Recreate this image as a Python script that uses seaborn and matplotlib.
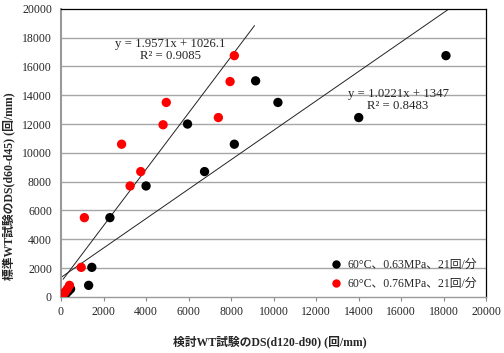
import numpy as np
import pandas as pd
import seaborn as sns
import matplotlib.pyplot as plt

# Data
black_x = [5950, 6750, 8150, 9150, 10200, 14000, 18100, 4000, 2300, 1450, 1300, 450, 350, 250]
black_y = [12000, 8700, 10600, 15000, 13500, 12450, 16750, 7700, 5500, 2050, 800, 550, 400, 250]
red_x = [2850, 3750, 4800, 4950, 7400, 7950, 8150, 3250, 1100, 950, 400, 300, 200, 150]
red_y = [10600, 8700, 11950, 13500, 12450, 14950, 16750, 7700, 5500, 2050, 800, 550, 350, 250]
series_labels = ["60°C、0.63MPa、21回/分", "60°C、0.76MPa、21回/分"]

# trendlines (slope, intercept, x-range)
red_fit = (1.9571, 1026.1, 100, 9100)
black_fit = (1.0221, 1347, 30, 18300)
red_eq = "y = 1.9571x + 1026.1\nR² = 0.9085"
black_eq = "y = 1.0221x + 1347\nR² = 0.8483"

xticks = list(range(0, 20001, 2000))
yticks = list(range(0, 20001, 2000))

df = pd.DataFrame({
    "x": black_x + red_x,
    "y": black_y + red_y,
    "series": [series_labels[0]] * len(black_x) + [series_labels[1]] * len(red_x),
})

sns.set_style("white")
fam = ["Liberation Serif", "Noto Sans CJK JP"]
plt.rcParams["font.family"] = fam

fig = plt.figure(figsize=(5.04, 3.53), dpi=100)
ax = fig.add_axes([0.121, 0.159, 0.844, 0.816])

for yv in yticks[1:-1]:
    ax.axhline(yv, color="#a6a6a6", lw=1.0, zorder=0)

for (m, b, x0, x1) in [red_fit, black_fit]:
    xs = np.array([x0, x1])
    ax.plot(xs, m * xs + b, color="#222222", lw=0.7, zorder=1)

sns.scatterplot(data=df, x="x", y="y", hue="series",
                palette={series_labels[0]: "black", series_labels[1]: "#ff0000"},
                s=45, edgecolor="none", ax=ax, zorder=3, legend=True)

ax.set_xlim(0, 20000)
ax.set_ylim(0, 20000)
ax.set_xticks(xticks)
ax.set_yticks(yticks)
ax.tick_params(axis="both", labelsize=8.5, length=3, width=0.8, color="#888888", direction="out",
               bottom=True, left=False)
for lab in ax.get_xticklabels() + ax.get_yticklabels():
    lab.set_family(fam)

ax.spines["left"].set_color("#999999")
ax.spines["left"].set_linewidth(1.5)
ax.spines["bottom"].set_color("#999999")
ax.spines["bottom"].set_linewidth(1.0)
ax.spines["top"].set_color("black")
ax.spines["right"].set_color("black")
ax.spines["top"].set_linewidth(0.9)
ax.spines["right"].set_linewidth(0.9)

ax.set_xlabel("検討WT試験のDS(d120-d90) (回/mm)", fontsize=8.5, fontweight="bold", family=fam)
ax.set_ylabel("標準WT試験のDS(d60-d45) (回/mm)", fontsize=8.5, fontweight="bold", family=fam)
ax.xaxis.set_label_coords(0.49, -0.135)
ax.yaxis.set_label_coords(-0.104, 0.385)

ax.text(5150, 17150, red_eq, ha="center", va="center", fontsize=9.2, family=fam, linespacing=1.0)
ax.text(15850, 13700, black_eq, ha="center", va="center", fontsize=9.2, family=fam, linespacing=1.0)

leg = ax.legend(loc="lower right", frameon=False, fontsize=8.5, handletextpad=0.0,
                markerscale=0.9, borderaxespad=0.2, labelspacing=0.6, bbox_to_anchor=(0.995, 0.0))
for t in leg.get_texts():
    t.set_family(fam)

fig.savefig("out.png", dpi=100)
